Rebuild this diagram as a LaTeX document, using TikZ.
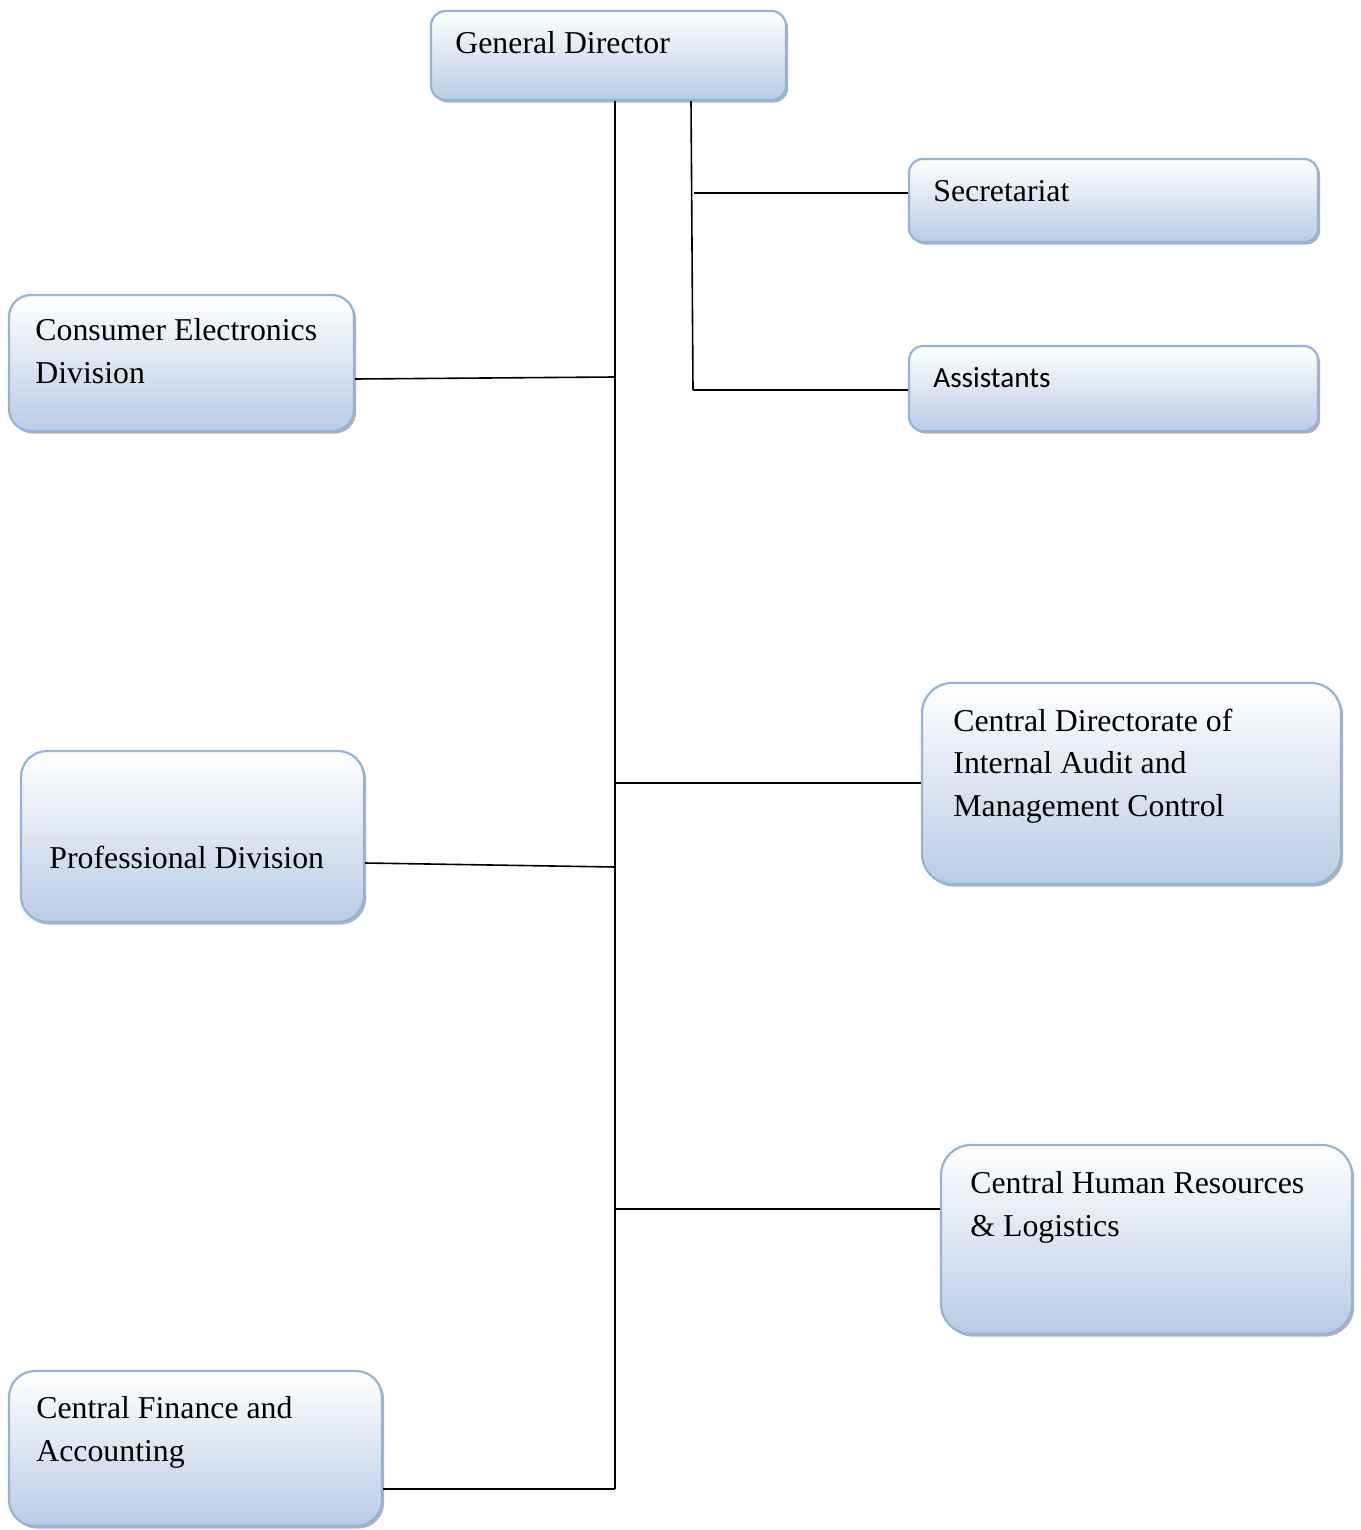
\documentclass[tikz,border=0pt]{standalone}
\usepackage{fontspec}
\setmainfont{Liberation Serif}
\newfontfamily\calfont{Carlito}
\usetikzlibrary{fit,shadows}
\definecolor{boxborder}{RGB}{149,179,215}
\definecolor{boxbottom}{RGB}{185,204,229}
\tikzset{
  orgbox/.style={draw=boxborder, line width=1.1pt, inner sep=0pt,
    top color=white, bottom color=boxbottom,
    drop shadow={shadow xshift=1.1pt, shadow yshift=-1.3pt, fill=black!55, opacity=.55}},
  txt/.style={anchor=base west, inner sep=0pt, font=\fontsize{15.9}{21.2}\selectfont, align=left},
  link/.style={line width=0.8pt, draw=black}
}
\begin{document}
\begin{tikzpicture}[x=0.5pt, y=-0.5pt]
\useasboundingbox (0,0) rectangle (1360,1530);
% boxes
\node[orgbox, rounded corners=7.4pt, fit={(431,11) (786,100)}] (gd) {};
\node[orgbox, rounded corners=6.9pt, fit={(909,159) (1318,242)}] (sec) {};
\node[orgbox, rounded corners=7.1pt, fit={(909,346) (1318,431)}] (ass) {};
\node[orgbox, rounded corners=11pt, fit={(9,295) (354,431)}] (ce) {};
\node[orgbox, rounded corners=13pt, fit={(21,751) (364,922)}] (prof) {};
\node[orgbox, rounded corners=15pt, fit={(922,683) (1341,884)}] (cdia) {};
\node[orgbox, rounded corners=15pt, fit={(941,1145) (1352,1334)}] (hr) {};
\node[orgbox, rounded corners=13pt, fit={(9,1371) (382,1526)}] (cfa) {};
% texts (multi-line nodes are placed by the baseline of their last line)
\node[txt] (tgd) at (455,54) {General Director};
\node[txt] (tsec) at (933,202) {Secretariat};
\node[txt, font=\calfont\fontsize{14.6}{18}\selectfont] (tass) at (933,387) {Assistants};
\node[txt] (tce) at (35,383) {Consumer Electronics\\Division};
\node[txt] (tprof) at (49,868) {Professional Division};
\node[txt] (tcdia) at (953,816) {Central Directorate of\\Internal Audit and\\Management Control};
\node[txt] (thr) at (970,1236) {Central Human Resources\\\& Logistics};
\node[txt] (tcfa) at (36,1461) {Central Finance and\\Accounting};
% junction coordinates
\coordinate (tb) at (615,1489);
\coordinate (jce) at (615,377);
\coordinate (jprof) at (615,867);
\coordinate (jcdia) at (615,783);
\coordinate (jhr) at (615,1209);
\coordinate (sb) at (693,390);
\coordinate (jsec) at (694,193);
% connectors
\draw[link] (gd.south -| tb) -- (tb);
\draw[link] (gd.south -| 691,0) -- (sb);
\draw[link] (jsec) -- (sec.west |- jsec);
\draw[link] (sb) -- (ass.west |- sb);
\draw[link] (ce.east |- 0,379) -- (jce);
\draw[link] (prof.east |- 0,863) -- (jprof);
\draw[link] (jcdia) -- (cdia.west |- jcdia);
\draw[link] (jhr) -- (hr.west |- jhr);
\draw[link] (cfa.east |- tb) -- (tb);
\end{tikzpicture}
\end{document}
